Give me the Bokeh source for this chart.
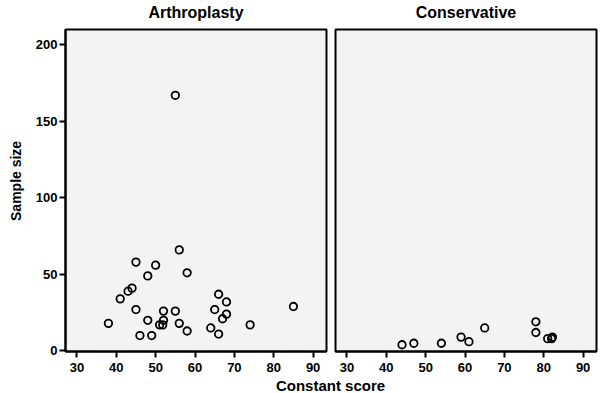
import math
from bokeh.plotting import figure
from bokeh.layouts import column, row
from bokeh.models import Range1d, FixedTicker, ColumnDataSource
from bokeh.core.properties import value
from bokeh.embed import file_html
from bokeh.resources import INLINE

# ---- data ----
panel_titles = ["Arthroplasty", "Conservative"]
arth_score = [56, 45, 50, 48, 58, 44, 43, 41, 66, 68, 85, 45, 52, 55, 65, 68, 67,
              38, 48, 52, 51, 51.8, 56, 58, 64, 74, 46, 49, 66, 55]
arth_n = [66, 58, 56, 49, 51, 41, 39, 34, 37, 32, 29, 27, 26, 26, 27, 24, 21,
          18, 20, 20, 17, 17, 18, 13, 15, 17, 10, 10, 11, 167]
cons_score = [44, 47, 54, 59, 61, 65, 78, 78, 81, 82, 82.2]
cons_n = [4, 5, 5, 9, 6, 15, 19, 12, 8, 8, 9]
x_ticks = [30, 40, 50, 60, 70, 80, 90]
y_ticks = [0, 50, 100, 150, 200]
x_label = "Constant score"
y_label = "Sample size"

# ---- layout / style ----
FONT = "Liberation Sans"
FRAME_W, FRAME_H = 261, 322
TITLE_H = 24          # strip holding the panel titles
YLAB_W = 30           # strip holding the y-axis title
TOP, BOTTOM = 5, 26
LEFT1, RIGHT1 = 35, 4
LEFT2, RIGHT2 = 5, 2
X_RANGE = (27.1, 93.4)
Y_RANGE = (-0.4, 210)
BG = "#f3f3f3"


def make_panel(xs, ys, left, right, show_y):
    p = figure(width=left + FRAME_W + right, height=TOP + FRAME_H + BOTTOM,
               output_backend="svg", toolbar_location=None,
               x_range=Range1d(*X_RANGE), y_range=Range1d(*Y_RANGE),
               min_border_left=left, min_border_right=right,
               min_border_top=TOP, min_border_bottom=BOTTOM)
    p.background_fill_color = BG
    p.border_fill_color = "white"
    p.outline_line_color = "black"
    p.outline_line_width = 2
    p.grid.visible = False

    p.xaxis.ticker = FixedTicker(ticks=x_ticks)
    p.yaxis.ticker = FixedTicker(ticks=y_ticks)
    for ax in (p.xaxis[0], p.yaxis[0]):
        ax.axis_line_color = "black"
        ax.axis_line_width = 2
        ax.major_tick_line_color = "black"
        ax.major_tick_line_width = 2
        ax.major_tick_out = 6
        ax.major_tick_in = 0
        ax.minor_tick_line_color = None
        ax.major_label_text_font = FONT
        ax.major_label_text_font_size = "13px"
        ax.major_label_text_font_style = "bold"
        ax.major_label_text_color = "black"
    p.xaxis.major_label_standoff = 5
    p.yaxis.major_label_standoff = 2
    if not show_y:
        p.yaxis.visible = False

    src = ColumnDataSource(dict(x=xs, y=ys))
    p.scatter("x", "y", source=src, marker="circle", size=7.5, fill_color=None,
              line_color="black", line_width=1.8)
    return p


p1 = make_panel(arth_score, arth_n, LEFT1, RIGHT1, True)
p2 = make_panel(cons_score, cons_n, LEFT2, RIGHT2, False)
total_w = YLAB_W + p1.width + p2.width


def text_strip(width, height, xs, ys, texts, size, angle=0.0):
    s = figure(width=width, height=height, output_backend="svg",
               toolbar_location=None, x_range=Range1d(0, width),
               y_range=Range1d(0, height), min_border=0, outline_line_color=None)
    s.axis.visible = False
    s.grid.visible = False
    s.background_fill_color = "white"
    s.border_fill_color = "white"
    s.text(x=xs, y=ys, text=texts, angle=angle, text_font=value(FONT),
           text_font_size=size, text_font_style="bold", text_color="black",
           text_align="center", text_baseline="middle")
    return s


# panel titles centred over each frame
title_x = [YLAB_W + LEFT1 + FRAME_W / 2, YLAB_W + p1.width + LEFT2 + FRAME_W / 2]
p0 = text_strip(total_w, TITLE_H, title_x, [TITLE_H / 2] * 2, panel_titles, "16px")
# y-axis title centred on the frame height
py = text_strip(YLAB_W, p1.height, [15], [BOTTOM + FRAME_H / 2], [y_label], "14px",
                angle=math.pi / 2)
# shared x-axis title centred under both panels
p3 = text_strip(total_w, 16, [YLAB_W + p1.width], [8], [x_label], "15px")

layout = column(p0, row(py, p1, p2), p3)
open("out.html", "w").write(file_html(layout, INLINE))
